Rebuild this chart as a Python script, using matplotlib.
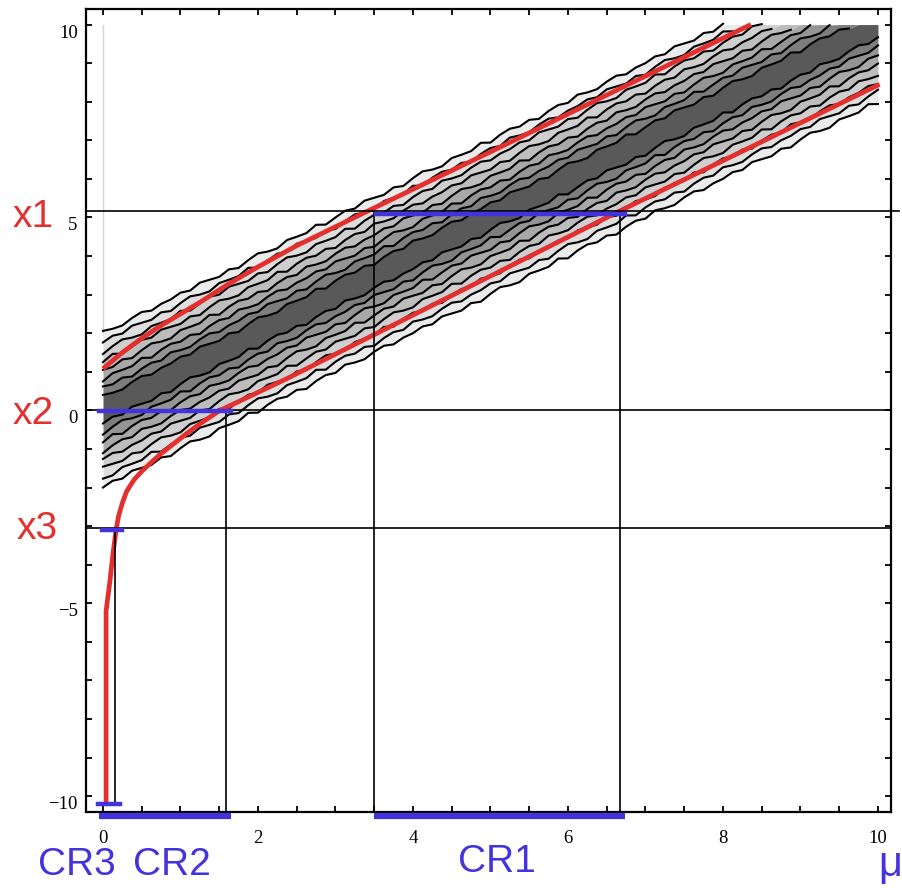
import matplotlib.pyplot as plt
import numpy as np

line_offsets = [-2.0, -1.76, -1.52, -1.28, -1.04, -0.8, -0.57, -0.34,
                0.34, 0.57, 0.8, 1.04, 1.28, 1.52, 1.76, 2.0]
band_greys = [0.92, 0.87, 0.81, 0.74, 0.66, 0.58, 0.49, 0.35,
              0.49, 0.58, 0.66, 0.74, 0.81, 0.87, 0.92]
# small hand-read wiggle of the Monte Carlo contours
jag = [0.00, 0.05, -0.02, 0.06, 0.01, -0.04, 0.03, -0.06, 0.02, 0.07, -0.01,
       -0.05, 0.04, 0.00, -0.03, 0.06, -0.06, 0.02, 0.05, -0.02, 0.03, -0.07,
       0.01, 0.04, -0.03, 0.06, -0.01, -0.05, 0.02, 0.05, -0.04, 0.01]

# red belt boundaries
upper_mu = [0.0, 0.25, 0.5, 0.75, 1.0, 1.25, 1.6, 2.0, 2.5, 3.42, 5.0, 8.36]
upper_x = [1.08, 1.5, 1.87, 2.2, 2.5, 2.8, 3.25, 3.72, 4.27, 5.17, 6.7, 10.0]
lower_mu = [0.04, 0.04, 0.09, 0.13, 0.17, 0.2, 0.25, 0.305, 0.4, 0.5, 0.606,
            0.75, 0.91, 1.08, 1.25, 1.51, 1.9, 2.37, 4.0, 6.67, 10.02]
lower_x = [-10.15, -5.2, -4.42, -3.7, -3.09, -2.75, -2.4, -2.1, -1.8, -1.58,
           -1.38, -1.12, -0.87, -0.6, -0.35, 0.0, 0.37, 0.82, 2.47, 5.17, 8.45]

# measured values x1, x2, x3 and their confidence regions
x_levels = [5.17, 0.0, -3.06]
x_names = ['x1', 'x2', 'x3']
cr_lo = [3.5, -0.05, -0.05]
cr_hi = [6.74, 1.65, 0.21]
cr_names = ['CR1', 'CR2', 'CR3']
cut_mu = [[3.5, 6.67], [1.59], [0.155]]

RED = '#e3302f'
BLUE = '#4433dd'
W, H = 903, 888

fig = plt.figure(figsize=(W / 100, H / 100), dpi=100)
ax = fig.add_axes([86 / W, 1 - 812 / H, (891 - 86) / W, (812 - 9.5) / H])
ax.set_xlim(-0.219, 10.168)
ax.set_ylim(-10.41, 10.39)

# grey belt
mu = np.arange(0, 10.0001, 0.125)
lines = []
for k, off in enumerate(line_offsets):
    wig = np.roll(np.resize(jag, len(mu)), 7 * k)
    lines.append(mu + off + wig)

for k in range(len(lines) - 1):
    lo = np.minimum(lines[k], 10)
    hi = np.minimum(lines[k + 1], 10)
    g = band_greys[k]
    ax.fill_between(mu, lo, hi, color=(g, g, g), lw=0, zorder=1)

for y in lines:
    yy = np.where(y > 10.02, np.nan, y)
    ax.plot(mu, yy, color='black', lw=1.5, zorder=2)

ax.plot([0, 0], [2.0, 10], color='#d4d4d4', lw=1, zorder=1)

# red belt edges
ax.plot(upper_mu, upper_x, color=RED, lw=3.4, zorder=4, solid_capstyle='butt')
ax.plot(lower_mu, lower_x, color=RED, lw=3.4, zorder=4, solid_capstyle='butt')

# construction lines
for xv in x_levels:
    right = 10.27 if xv > 5 else 10.168
    ax.plot([-0.219, right], [xv, xv], color='black', lw=1.2, zorder=5,
            clip_on=False)
ax.vlines(cut_mu[0], -10.41, x_levels[0], color='black', lw=1.2, zorder=5)
ax.vlines(cut_mu[1], -10.41, x_levels[1], color='black', lw=1.2, zorder=5)
ax.vlines(cut_mu[2], -10.23, x_levels[2], color='black', lw=1.2, zorder=5)

# blue intervals on the measured lines
ax.plot([3.52, 6.74], [5.09, 5.09], color=BLUE, lw=3.2, zorder=6)
ax.plot([-0.05, 1.65], [-0.01, -0.01], color=BLUE, lw=3.2, zorder=6,
        clip_on=False)
ax.plot([-0.01, 0.25], [-3.09, -3.09], color=BLUE, lw=3.2, zorder=6)
ax.plot([-0.06, 0.22], [-10.2, -10.2], color=BLUE, lw=3.2, zorder=6,
        clip_on=False)

# confidence regions under the axis
for lo, hi in zip(cr_lo[:2], cr_hi[:2]):
    ax.plot([lo, hi], [-10.52, -10.52], color=BLUE, lw=4.5, zorder=6,
            clip_on=False, solid_capstyle='butt')

# axes style
for s in ax.spines.values():
    s.set_linewidth(1.6)
ax.set_xticks(np.arange(0, 11, 2))
ax.set_xticks(np.arange(0, 10.01, 0.5), minor=True)
ax.set_yticks([-10, -5, 0, 5, 10])
ax.set_yticks(np.arange(-10, 11, 1), minor=True)
ax.set_yticklabels(['\u221210', '\u22125', '0', '5', '10'])
ax.tick_params(which='both', direction='in', top=True, right=True,
               length=4, width=1.3)
ax.tick_params(axis='x', pad=13)
ax.tick_params(axis='y', pad=6)
for lab in ax.get_xticklabels() + ax.get_yticklabels():
    lab.set_fontfamily('Liberation Serif')
    lab.set_fontsize(13.5)
for lab in ax.get_yticklabels():
    lab.set_va('top')

# labels
label_pos = [(33, 217), (33, 414), (37, 529)]
for name, (px, py) in zip(x_names, label_pos):
    fig.text(px / W, 1 - py / H, name, color=RED, fontsize=28,
             family='Liberation Sans', ha='center', va='center')
cr_pos = [(497, 862), (172, 865), (77, 865)]
for name, (px, py) in zip(cr_names, cr_pos):
    fig.text(px / W, 1 - py / H, name, color=BLUE, fontsize=28,
             family='Liberation Sans', ha='center', va='center')
fig.text(890 / W, 1 - 865 / H, '\u03bc', color=BLUE, fontsize=30,
         family='Liberation Sans', ha='center', va='center')

fig.savefig('out.png', dpi=100)
